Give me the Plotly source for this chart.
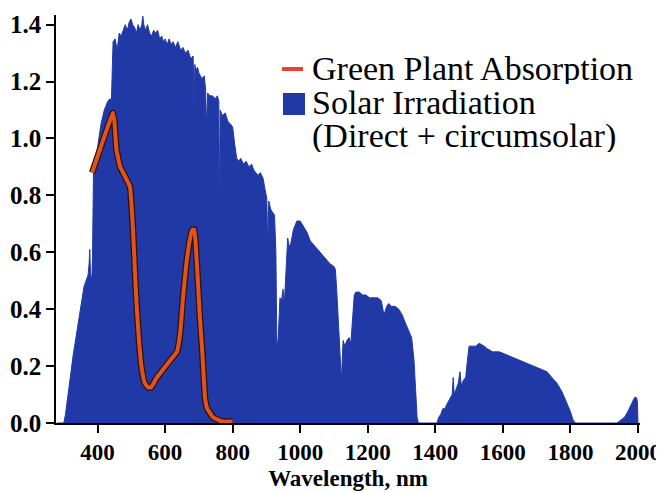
import plotly.graph_objects as go

# ---- Solar irradiation spectrum (direct + circumsolar) ----
wl_a = [280, 300, 305, 312, 320, 328, 336, 344, 352, 360,
        366, 372, 375, 377, 379, 383, 385, 388, 392, 396,
        400, 405, 410, 420, 430, 437, 441, 446, 452, 458,
        464, 470, 476, 482, 488, 494, 499, 504, 510, 515,
        520, 526, 531, 534, 537, 542, 548, 554, 560, 566,
        572, 578, 584, 590, 595, 600, 606, 612, 618, 624,
        630, 638, 646, 653, 660, 668, 676, 683, 686, 688,
        691, 696]
irr_a = [0.00, 0.00, 0.03, 0.10, 0.16, 0.24, 0.30, 0.36, 0.42, 0.48,
         0.50, 0.52, 0.56, 0.61, 0.53, 0.50, 0.58, 0.88, 0.90, 0.93,
         0.96, 1.00, 1.05, 1.10, 1.13, 1.14, 1.13, 1.34, 1.35, 1.31,
         1.37, 1.36, 1.38, 1.40, 1.38, 1.41, 1.42, 1.40, 1.39, 1.37,
         1.40, 1.38, 1.40, 1.43, 1.40, 1.38, 1.40, 1.37, 1.36, 1.38,
         1.37, 1.38, 1.35, 1.36, 1.34, 1.35, 1.33, 1.35, 1.33, 1.34,
         1.32, 1.34, 1.31, 1.32, 1.30, 1.31, 1.28, 1.29, 1.10, 1.26,
         1.24, 1.25]

wl_b = [700, 709, 716, 720, 722, 726, 732, 740, 748, 755,
        759, 761, 763, 766, 770, 778, 786, 794, 800, 806,
        812, 818, 824, 832, 840, 848, 856, 862, 868, 875,
        882, 890, 896, 901, 904, 907, 913, 919, 924, 928,
        931, 935, 940, 945, 949, 953, 958, 963, 967, 972,
        980, 990]
irr_b = [1.23, 1.21, 1.22, 1.17, 1.04, 1.16, 1.15, 1.15, 1.14, 1.15,
         1.13, 0.71, 1.10, 1.09, 1.08, 1.09, 1.06, 1.05, 1.04, 0.98,
         0.93, 0.92, 0.93, 0.91, 0.92, 0.90, 0.91, 0.89, 0.88, 0.87,
         0.88, 0.86, 0.82, 0.79, 0.62, 0.78, 0.75, 0.74, 0.73, 0.60,
         0.26, 0.30, 0.44, 0.43, 0.47, 0.42, 0.55, 0.65, 0.62, 0.63,
         0.68, 0.71]

wl_c = [1000, 1010, 1020, 1030, 1045, 1060, 1075, 1088, 1100, 1104,
        1108, 1112, 1117, 1122, 1127, 1132, 1138, 1145, 1150, 1155,
        1160, 1165, 1175, 1185, 1195, 1205, 1218, 1230, 1240, 1248,
        1256, 1262, 1270, 1281, 1292, 1302, 1312, 1322, 1330, 1337,
        1342, 1346, 1350]
irr_c = [0.71, 0.69, 0.67, 0.64, 0.62, 0.60, 0.58, 0.56, 0.55, 0.54,
         0.47, 0.38, 0.25, 0.15, 0.29, 0.27, 0.29, 0.30, 0.28, 0.38,
         0.45, 0.46, 0.46, 0.45, 0.45, 0.44, 0.44, 0.44, 0.43, 0.38,
         0.41, 0.42, 0.41, 0.41, 0.40, 0.38, 0.35, 0.32, 0.30, 0.22,
         0.12, 0.02, 0.00]

wl_d = [1400, 1405, 1410, 1416, 1422, 1428, 1436, 1444, 1450, 1453,
        1456, 1462, 1468, 1473, 1477, 1483, 1490, 1495, 1500, 1510,
        1520, 1530, 1545, 1555, 1570, 1590, 1610, 1630, 1650, 1670,
        1690, 1710, 1731, 1745, 1760, 1775, 1790, 1800, 1808, 1815]
irr_d = [0.00, 0.00, 0.02, 0.03, 0.05, 0.05, 0.07, 0.09, 0.10, 0.16,
         0.10, 0.12, 0.14, 0.18, 0.13, 0.15, 0.16, 0.22, 0.27, 0.27,
         0.27, 0.28, 0.27, 0.26, 0.25, 0.25, 0.24, 0.23, 0.22, 0.21,
         0.20, 0.19, 0.18, 0.16, 0.14, 0.11, 0.07, 0.04, 0.01, 0.00]

wl_e = [1938, 1950, 1960, 1970, 1978, 1985, 1990, 1995, 1998, 2000]
irr_e = [0.00, 0.01, 0.02, 0.04, 0.06, 0.08, 0.09, 0.09, 0.08, 0.00]

# ---- Green plant absorption ----
abs_wl = [384, 446, 450, 456, 467, 480, 496, 505, 512, 517,
          524, 531, 540, 550, 558, 566, 576, 595, 615, 635,
          645, 653, 663, 674, 681, 686, 690, 697, 703, 709,
          714, 718, 725, 742, 770, 800]
abs_val = [0.88, 1.09, 1.06, 0.96, 0.90, 0.87, 0.83, 0.68, 0.50, 0.39,
           0.27, 0.19, 0.14, 0.125, 0.125, 0.14, 0.16, 0.19, 0.22, 0.25,
           0.32, 0.44, 0.56, 0.65, 0.68, 0.68, 0.64, 0.50, 0.37, 0.27,
           0.17, 0.09, 0.05, 0.02, 0.005, 0.005]

x_ticks = [400, 600, 800, 1000, 1200, 1400, 1600, 1800, 2000]
y_ticks = [0.0, 0.2, 0.4, 0.6, 0.8, 1.0, 1.2, 1.4]
legend_labels = ["Green Plant Absorption", "Solar Irradiation", "(Direct + circumsolar)"]

BLUE = "#2139A6"
RED = "#E2521E"
FONT = "Liberation Serif"

wl = wl_a + wl_b + wl_c + wl_d + wl_e
irr = irr_a + irr_b + irr_c + irr_d + irr_e

fig = go.Figure()
fig.add_trace(go.Scatter(x=wl, y=irr, mode="lines", fill="tozeroy",
                         fillcolor=BLUE, line=dict(color=BLUE, width=1),
                         name="Solar Irradiation (Direct + circumsolar)",
                         showlegend=False, hoverinfo="skip"))
fig.add_trace(go.Scatter(x=abs_wl, y=abs_val, mode="lines",
                         line=dict(color="#2a1208", width=6.5, shape="spline", smoothing=0.3),
                         showlegend=False, hoverinfo="skip"))
fig.add_trace(go.Scatter(x=abs_wl, y=abs_val, mode="lines",
                         line=dict(color=RED, width=4, shape="spline", smoothing=0.3),
                         name="Green Plant Absorption", showlegend=False))

# page body has an 8px margin: the figure is sized to fit the window exactly
W, H = 656, 485
L, R, T, B = 48, 24, 7, 70
# plot area in window pixels: x 56..640, y 15..423
SX0, SX1, SY0, SY1 = 56, 640, 15, 423
def px(x):
    return (x - SX0) / (SX1 - SX0)
def py(y):
    return (SY1 - y) / (SY1 - SY0)

fig.add_shape(type="rect", xref="paper", yref="paper",
              x0=px(282), x1=px(303), y0=py(71), y1=py(67),
              fillcolor="#E8442A", line=dict(width=0))
fig.add_shape(type="rect", xref="paper", yref="paper",
              x0=px(283), x1=px(305), y0=py(115), y1=py(93),
              fillcolor=BLUE, line=dict(width=0))
for label, yc in zip(legend_labels, [68, 102, 136]):
    fig.add_annotation(text=label, xref="paper", yref="paper",
                       x=px(311), y=py(yc), xanchor="left", yanchor="middle",
                       height=32, valign="middle", borderpad=0,
                       showarrow=False, font=dict(family=FONT, size=34, color="black"))

fig.update_layout(
    width=W, height=H,
    margin=dict(l=L, r=R, t=T, b=B, autoexpand=False),
    paper_bgcolor="white", plot_bgcolor="white",
    showlegend=False,
    font=dict(family=FONT, color="black"),
)
fig.update_xaxes(range=[277, 2006], tickvals=x_ticks, ticktext=[str(v) for v in x_ticks],
                 automargin=False,
                 showline=True, linecolor="black", linewidth=1.5,
                 ticks="outside", ticklen=8, tickwidth=1.5, tickcolor="black",
                 showgrid=False, zeroline=False,
                 tickfont=dict(family=FONT, size=23, weight="bold", color="black"),
                 title=dict(text="Wavelength, nm", standoff=6,
                            font=dict(family=FONT, size=23, weight="bold", color="black")))
fig.update_yaxes(range=[0, 1.434], tickvals=y_ticks, ticktext=["%.1f" % v for v in y_ticks],
                 automargin=False,
                 showline=True, linecolor="black", linewidth=1.5,
                 ticks="outside", ticklen=8, tickwidth=1.5, tickcolor="black",
                 showgrid=False, zeroline=False,
                 tickfont=dict(family=FONT, size=25, weight="bold", color="black"))

fig.write_html("out.html")
